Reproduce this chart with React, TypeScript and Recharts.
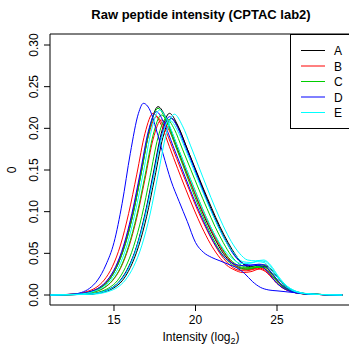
import { Line, LineChart, ReferenceArea, XAxis, YAxis } from 'recharts';

type Pt = [number, number];

const SAMPLES = ['A', 'B', 'C', 'D', 'E'];
const SAMPLE_COLOR: Record<string, string> = {
  A: '#000000',
  B: '#FF0000',
  C: '#00CD00',
  D: '#0000FF',
  E: '#00FFFF',
};

const X_TICKS = [15, 20, 25];
const Y_TICKS = [0, 0.05, 0.1, 0.15, 0.2, 0.25, 0.3];

// density curves: [log2 intensity, density]
const A1: Pt[] = [[11.1,0],[12.7,0.001],[13.2,0.002],[13.7,0.0046],[14.2,0.009],[14.7,0.018],[15.2,0.035],[15.7,0.062],[16.2,0.1],[16.7,0.15],[17.2,0.201],[17.7,0.226],[18.2,0.212],[18.7,0.186],[19.2,0.16],[19.7,0.135],[20.2,0.11],[20.7,0.087],[21.2,0.067],[21.7,0.05],[22.2,0.039],[22.7,0.033],[23.2,0.031],[23.7,0.033],[24.2,0.034],[24.7,0.025],[25.2,0.013],[25.7,0.006],[26.3,0.002],[27,0.001],[29,0]];
const A2: Pt[] = [[11.1,0],[13.4,0.001],[13.9,0.002],[14.4,0.0045],[14.9,0.009],[15.4,0.018],[15.9,0.034],[16.4,0.059],[16.9,0.097],[17.4,0.145],[17.9,0.194],[18.4,0.218],[18.9,0.204],[19.4,0.18],[19.9,0.155],[20.4,0.13],[20.9,0.106],[21.4,0.084],[21.9,0.064],[22.4,0.048],[22.9,0.038],[23.4,0.034],[23.9,0.036],[24.3,0.036],[24.8,0.027],[25.3,0.015],[25.8,0.007],[26.4,0.003],[27,0.0012],[29,0]];
const A3: Pt[] = [[11.1,0],[13.5,0.001],[14,0.002],[14.5,0.0043],[15,0.0087],[15.5,0.017],[16,0.033],[16.5,0.058],[17,0.094],[17.5,0.141],[18,0.189],[18.5,0.212],[19,0.199],[19.5,0.175],[20,0.151],[20.5,0.127],[21,0.104],[21.5,0.082],[22,0.063],[22.5,0.047],[23,0.036],[23.5,0.032],[24,0.034],[24.4,0.034],[24.9,0.024],[25.4,0.013],[25.9,0.006],[26.5,0.002],[27.2,0.001],[29,0]];
const B1: Pt[] = [[11.1,0],[12.4,0.001],[12.9,0.002],[13.4,0.0045],[13.9,0.009],[14.4,0.018],[14.9,0.034],[15.4,0.06],[15.9,0.098],[16.4,0.145],[16.9,0.194],[17.4,0.218],[17.9,0.204],[18.4,0.178],[18.9,0.152],[19.4,0.127],[19.9,0.103],[20.4,0.081],[20.9,0.062],[21.4,0.047],[21.9,0.036],[22.4,0.03],[22.9,0.027],[23.4,0.028],[23.9,0.031],[24.3,0.028],[24.8,0.018],[25.3,0.009],[25.9,0.004],[26.6,0.0015],[29,0]];
const B2: Pt[] = [[11.1,0],[12.6,0.001],[13.1,0.002],[13.6,0.0044],[14.1,0.0088],[14.6,0.0175],[15.1,0.033],[15.6,0.058],[16.1,0.095],[16.6,0.142],[17.1,0.19],[17.6,0.214],[18.1,0.2],[18.6,0.176],[19.1,0.151],[19.6,0.127],[20.1,0.103],[20.6,0.082],[21.1,0.063],[21.6,0.047],[22.1,0.036],[22.6,0.03],[23.1,0.029],[23.6,0.031],[24,0.032],[24.5,0.025],[25,0.014],[25.5,0.007],[26.1,0.003],[27,0.001],[29,0]];
const B3: Pt[] = [[11.1,0],[12.9,0.001],[13.4,0.002],[13.9,0.0043],[14.4,0.0086],[14.9,0.017],[15.4,0.032],[15.9,0.057],[16.4,0.093],[16.9,0.139],[17.4,0.187],[17.9,0.21],[18.4,0.197],[18.9,0.173],[19.4,0.149],[19.9,0.125],[20.4,0.102],[20.9,0.081],[21.4,0.062],[21.9,0.047],[22.4,0.036],[22.9,0.031],[23.4,0.031],[23.9,0.033],[24.3,0.031],[24.8,0.021],[25.3,0.011],[25.8,0.005],[26.4,0.002],[27.2,0.001],[29,0]];
const C1: Pt[] = [[11.1,0],[12.7,0.001],[13.2,0.002],[13.7,0.0046],[14.2,0.009],[14.7,0.018],[15.2,0.035],[15.7,0.061],[16.2,0.1],[16.7,0.149],[17.2,0.2],[17.7,0.224],[18.2,0.209],[18.7,0.183],[19.2,0.157],[19.7,0.131],[20.2,0.106],[20.7,0.083],[21.2,0.063],[21.7,0.047],[22.2,0.037],[22.7,0.032],[23.2,0.031],[23.7,0.033],[24.1,0.033],[24.6,0.025],[25.1,0.014],[25.6,0.007],[26.2,0.003],[27,0.001],[29,0]];
const C2: Pt[] = [[11.1,0],[12.9,0.001],[13.4,0.002],[13.9,0.0044],[14.4,0.0088],[14.9,0.0175],[15.4,0.033],[15.9,0.059],[16.4,0.096],[16.9,0.143],[17.4,0.192],[17.9,0.216],[18.4,0.202],[18.9,0.178],[19.4,0.153],[19.9,0.129],[20.4,0.105],[20.9,0.083],[21.4,0.064],[21.9,0.048],[22.4,0.038],[22.9,0.033],[23.4,0.032],[23.9,0.034],[24.3,0.033],[24.8,0.023],[25.3,0.012],[25.8,0.006],[26.4,0.002],[27.2,0.001],[29,0]];
const C3: Pt[] = [[11.1,0],[13.2,0.001],[13.7,0.002],[14.2,0.0043],[14.7,0.0087],[15.2,0.017],[15.7,0.033],[16.2,0.058],[16.7,0.094],[17.2,0.141],[17.7,0.189],[18.2,0.212],[18.7,0.199],[19.2,0.175],[19.7,0.151],[20.2,0.127],[20.7,0.104],[21.2,0.082],[21.7,0.063],[22.2,0.047],[22.7,0.037],[23.2,0.033],[23.7,0.034],[24.2,0.035],[24.6,0.028],[25.1,0.016],[25.6,0.008],[26.2,0.003],[27,0.0012],[29,0]];
const D1: Pt[] = [[11.1,0],[12.5,0.001],[13,0.003],[13.5,0.008],[14,0.018],[14.5,0.036],[15,0.063],[15.5,0.11],[16,0.17],[16.5,0.218],[16.8,0.23],[17.2,0.222],[17.6,0.198],[18,0.17],[18.5,0.137],[19,0.112],[19.5,0.088],[20,0.063],[20.5,0.051],[21,0.045],[21.5,0.041],[22,0.037],[22.5,0.033],[23,0.026],[23.5,0.016],[24,0.009],[24.5,0.006],[25,0.005],[26,0.003],[27,0.001],[29,0]];
const D2: Pt[] = [[11.1,0],[13.4,0.001],[13.9,0.002],[14.4,0.0044],[14.9,0.0088],[15.4,0.0175],[15.9,0.033],[16.4,0.058],[16.9,0.095],[17.4,0.142],[17.9,0.19],[18.4,0.214],[18.9,0.201],[19.4,0.177],[19.9,0.153],[20.4,0.128],[20.9,0.104],[21.4,0.082],[21.9,0.063],[22.4,0.047],[22.9,0.038],[23.4,0.036],[23.9,0.037],[24.2,0.036],[24.7,0.026],[25.2,0.014],[25.7,0.007],[26.3,0.003],[27,0.001],[29,0]];
const D3: Pt[] = [[11.1,0],[12.6,0.001],[13.1,0.002],[13.6,0.0045],[14.1,0.009],[14.6,0.018],[15.1,0.034],[15.6,0.06],[16.1,0.098],[16.6,0.146],[17.1,0.196],[17.6,0.22],[18.1,0.205],[18.6,0.18],[19.1,0.155],[19.6,0.13],[20.1,0.106],[20.6,0.084],[21.1,0.064],[21.6,0.049],[22.1,0.04],[22.6,0.036],[23.1,0.035],[23.6,0.036],[24,0.035],[24.5,0.026],[25,0.014],[25.5,0.007],[26.1,0.003],[27,0.001],[29,0]];
const E1: Pt[] = [[11.1,0],[12.8,0.001],[13.3,0.002],[13.8,0.0045],[14.3,0.009],[14.8,0.018],[15.3,0.034],[15.8,0.06],[16.3,0.099],[16.8,0.147],[17.3,0.198],[17.8,0.222],[18.3,0.208],[18.8,0.183],[19.3,0.158],[19.8,0.133],[20.3,0.109],[20.8,0.087],[21.3,0.068],[21.8,0.053],[22.3,0.043],[22.8,0.038],[23.3,0.038],[23.8,0.04],[24.2,0.039],[24.7,0.029],[25.2,0.017],[25.7,0.008],[26.3,0.003],[27,0.0012],[29,0]];
const E2: Pt[] = [[11.1,0],[13.7,0.001],[14.2,0.002],[14.7,0.0045],[15.2,0.009],[15.7,0.018],[16.2,0.034],[16.7,0.059],[17.2,0.096],[17.7,0.144],[18.2,0.193],[18.7,0.217],[19.2,0.203],[19.7,0.179],[20.2,0.154],[20.7,0.129],[21.2,0.105],[21.7,0.083],[22.2,0.064],[22.7,0.05],[23.2,0.042],[23.7,0.041],[24.2,0.042],[24.6,0.036],[25.1,0.022],[25.6,0.011],[26.1,0.005],[26.7,0.002],[27.5,0.0008],[29,0]];
const E3: Pt[] = [[11.1,0],[13.4,0.001],[13.9,0.002],[14.4,0.0043],[14.9,0.0086],[15.4,0.017],[15.9,0.032],[16.4,0.057],[16.9,0.093],[17.4,0.139],[17.9,0.187],[18.4,0.21],[18.9,0.197],[19.4,0.174],[19.9,0.15],[20.4,0.126],[20.9,0.103],[21.4,0.082],[21.9,0.063],[22.4,0.049],[22.9,0.04],[23.4,0.039],[23.9,0.041],[24.3,0.04],[24.8,0.029],[25.3,0.016],[25.8,0.008],[26.4,0.003],[27.2,0.001],[29,0]];

const CURVES: { sample: string; pts: Pt[] }[] = [
  { sample: 'A', pts: A1 }, { sample: 'A', pts: A2 }, { sample: 'A', pts: A3 },
  { sample: 'B', pts: B1 }, { sample: 'B', pts: B2 }, { sample: 'B', pts: B3 },
  { sample: 'C', pts: C1 }, { sample: 'C', pts: C2 }, { sample: 'C', pts: C3 },
  { sample: 'D', pts: D1 }, { sample: 'D', pts: D2 }, { sample: 'D', pts: D3 },
  { sample: 'E', pts: E1 }, { sample: 'E', pts: E2 }, { sample: 'E', pts: E3 },
];

const X_DOMAIN: [number, number] = [11.074, 29.6];
const Y_DOMAIN: [number, number] = [-0.012, 0.3132];

function YTick({ x, y, payload }: any) {
  return (
    <text transform={`translate(${x},${y}) rotate(-90)`} textAnchor="middle" fontSize={12} fill="#000">
      {payload.value.toFixed(2)}
    </text>
  );
}

export default function App() {
  return (
    <div style={{ position: 'absolute', left: 0, top: 0, width: 349, height: 345, overflow: 'hidden', background: '#fff', fontFamily: '"Liberation Sans", Arial, sans-serif' }}>
      <LineChart width={355} height={345} margin={{ top: 34, right: 3, bottom: 0, left: 0 }}>
        <XAxis
          type="number"
          dataKey="x"
          domain={X_DOMAIN}
          ticks={X_TICKS}
          allowDataOverflow
          height={40}
          axisLine={false}
          tickLine={{ stroke: '#000' }}
          tickSize={6}
          tickMargin={4}
          tick={{ fontSize: 12, fill: '#000' }}
          interval={0}
        />
        <YAxis
          type="number"
          domain={Y_DOMAIN}
          ticks={Y_TICKS}
          allowDataOverflow
          width={50}
          axisLine={false}
          tickLine={{ stroke: '#000' }}
          tickSize={6}
          tickMargin={6}
          tick={<YTick />}
          interval={0}
        />
        {CURVES.map((c, i) => (
          <Line
            key={i}
            data={c.pts.map(([x, y]) => ({ x, y }))}
            dataKey="y"
            type="monotone"
            stroke={SAMPLE_COLOR[c.sample]}
            strokeWidth={1}
            dot={false}
            activeDot={false}
            isAnimationActive={false}
          />
        ))}
        <ReferenceArea x1={X_DOMAIN[0]} x2={X_DOMAIN[1]} y1={Y_DOMAIN[0]} y2={Y_DOMAIN[1]} fill="none" stroke="#000" strokeWidth={1} fillOpacity={0} />
      </LineChart>
      <svg width={349} height={345} style={{ position: 'absolute', left: 0, top: 0, pointerEvents: 'none' }}>
        <text x={201} y={19} textAnchor="middle" fontSize={13} fontWeight="bold">Raw peptide intensity (CPTAC lab2)</text>
        <text x={201} y={341} textAnchor="middle" fontSize={12}>
          Intensity (log<tspan fontSize={9} dy={3}>2</tspan><tspan dy={-3}>)</tspan>
        </text>
        <text transform="translate(16,170) rotate(-90)" textAnchor="middle" fontSize={12}>0</text>
        <rect x={290.5} y={34.5} width={80} height={94} fill="#fff" stroke="#000" />
        {SAMPLES.map((s, i) => (
          <g key={s}>
            <line x1={301} x2={325} y1={50.5 + i * 15.5} y2={50.5 + i * 15.5} stroke={SAMPLE_COLOR[s]} />
            <text x={334} y={55 + i * 15.5} fontSize={12}>{s}</text>
          </g>
        ))}
      </svg>
    </div>
  );
}
